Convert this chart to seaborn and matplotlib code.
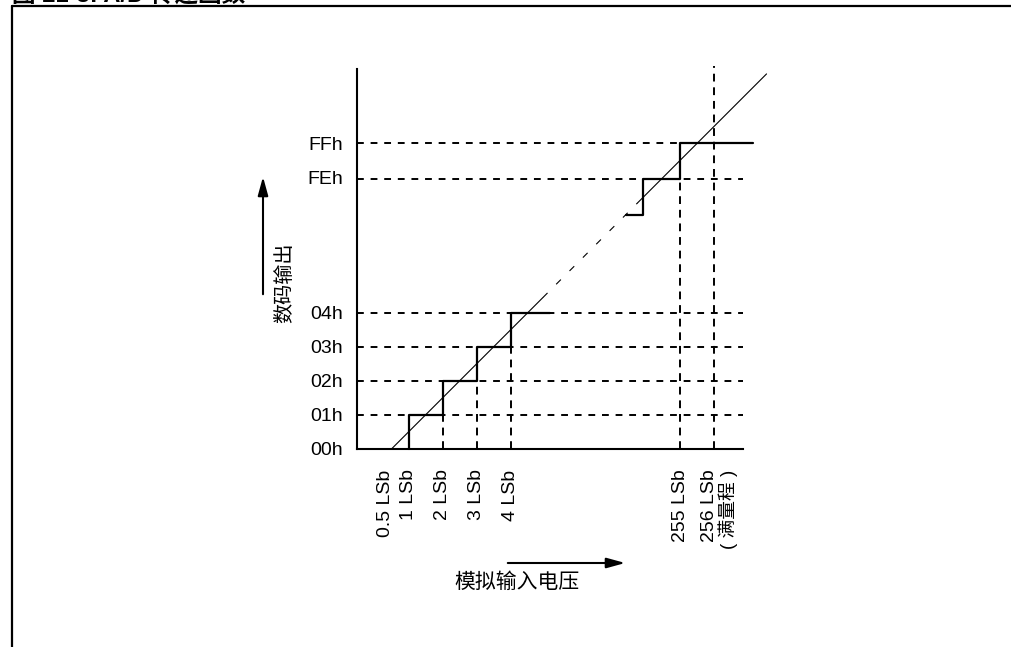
import matplotlib
matplotlib.use('Agg')
import matplotlib.pyplot as plt
import matplotlib.transforms as mtransforms
from matplotlib.lines import Line2D
from matplotlib.patches import FancyArrowPatch
import seaborn as sns

# ---------------- data (broken-axis positions) ----------------
y_codes = ['00h', '01h', '02h', '03h', '04h', 'FEh', 'FFh']
y_pos = [0, 1, 2, 3, 4, 8, 9]
x_labels = ['0.5 LSb', '1 LSb', '2 LSb', '3 LSb', '4 LSb', '255 LSb', '256 LSb']
x_pos = [0.5, 1, 2, 3, 4, 9, 10]
x_note = '( 满量程 )'

low_step_x = [1, 1, 2, 2, 3, 3, 4, 4, 5.15]
low_step_y = [0, 1, 1, 2, 2, 3, 3, 4, 4]
high_step_x = [7.4, 7.9, 7.9, 9, 9, 11.15]
high_step_y = [6.9, 6.9, 7.95, 7.95, 9, 9]

ideal_lo_x, ideal_lo_y = [0.5, 4.95], [0.0, 4.45]
ideal_gap_x, ideal_gap_y = [4.95, 7.75], [4.45, 7.25]
ideal_hi_x, ideal_hi_y = [7.75, 11.55], [7.25, 11.05]

grid_levels = [1, 2, 3, 4, 7.95]
grid_end = 10.86
ffh_level, ffh_end = 9, 9
vgrid_x = [2, 3, 4, 9, 10]
vgrid_top = [1, 2, 3, 7.95, 11.27]

# ---------------- style ----------------
sns.set_theme(style='white')
plt.rcParams['font.family'] = ['Liberation Sans', 'Noto Sans CJK SC']

W, H = 1011, 647
fig = plt.figure(figsize=(W / 100, H / 100), dpi=100)

X0, Y0, S = 375.0, 448.5, 33.9
xmin, xmax = (357 - X0) / S, 12.0
ymin, ymax = 0.0, 11.6
left = 357 / W
width = (X0 + xmax * S - 357) / W
bottom = (H - Y0) / H
height = (ymax * S) / H
ax = fig.add_axes([left, bottom, width, height])
ax.set_xlim(xmin, xmax)
ax.set_ylim(ymin, ymax)
ax.set_facecolor('white')

for side in ['top', 'right']:
    ax.spines[side].set_visible(False)
for side in ['left', 'bottom']:
    ax.spines[side].set_color('black')
    ax.spines[side].set_linewidth(1.5)
ax.spines['left'].set_bounds(0, 11.2)
ax.spines['bottom'].set_bounds(xmin, grid_end)

dash = (0, (3.5, 3.5))
# horizontal dashed grid
for lv in grid_levels:
    ax.plot([xmin, grid_end], [lv, lv], color='black', lw=1.4, linestyle=dash, zorder=1)
ax.plot([xmin, ffh_end], [ffh_level, ffh_level], color='black', lw=1.4, linestyle=dash, zorder=1)
# vertical dashed grid
for xv, top in zip(vgrid_x, vgrid_top):
    ax.plot([xv, xv], [0, top], color='black', lw=1.4, linestyle=(0, (4, 3)), zorder=1)

# staircases
sns.lineplot(x=low_step_x, y=low_step_y, sort=False, estimator=None,
             color='black', lw=1.6, ax=ax, zorder=3)
sns.lineplot(x=high_step_x, y=high_step_y, sort=False, estimator=None,
             color='black', lw=1.6, ax=ax, zorder=3)
# ideal transfer line
sns.lineplot(x=ideal_lo_x, y=ideal_lo_y, sort=False, estimator=None,
             color='black', lw=0.8, ax=ax, zorder=4)
sns.lineplot(x=ideal_gap_x, y=ideal_gap_y, sort=False, estimator=None,
             color='black', lw=0.8, linestyle=(0, (6, 11)), ax=ax, zorder=4)
sns.lineplot(x=ideal_hi_x, y=ideal_hi_y, sort=False, estimator=None,
             color='black', lw=0.8, ax=ax, zorder=4)
for ln in ax.get_lines():
    ln.set_clip_on(False)

# y ticks
ax.set_yticks(y_pos, y_codes)
ax.tick_params(axis='y', length=0, pad=10, labelsize=14, labelcolor='black')
ax.set_xticks([])

# x labels (rotated)
trans = ax.get_xaxis_transform()
for xp, lab in zip(x_pos, x_labels):
    dx = -6 if xp == 0.5 else (-4 if xp == 10 else 0)
    t = mtransforms.offset_copy(trans, fig=fig, x=dx, y=-21, units='dots')
    ax.text(xp, 0, lab, transform=t, rotation=90, ha='center', va='top',
            fontsize=14, color='black')
t = mtransforms.offset_copy(trans, fig=fig, x=14, y=-21, units='dots')
ax.text(x_pos[-1], 0, x_note, transform=t, rotation=90, ha='center', va='top',
        fontsize=13.5, color='black')

# axis titles and arrows
fig.text(285 / W, 1 - 282.5 / H, '数码输出', rotation=90, ha='center', va='center',
         fontsize=14.5, color='black')
fig.text(517 / W, 1 - 582 / H, '模拟输入电压', ha='center', va='center',
         fontsize=15, color='black')
astyle = '-|>,head_length=0.8,head_width=0.22'
fig.add_artist(FancyArrowPatch((263 / W, 1 - 297 / H), (263 / W, 1 - 174 / H),
                               transform=fig.transFigure, arrowstyle=astyle,
                               mutation_scale=14, lw=1.5, color='black'))
fig.add_artist(FancyArrowPatch((505 / W, 1 - 563 / H), (628 / W, 1 - 563 / H),
                               transform=fig.transFigure, arrowstyle=astyle,
                               mutation_scale=14, lw=1.5, color='black'))

# frame and clipped caption (caption is cut by the top edge, as in the source)
fig.add_artist(Line2D([12 / W, 1.0], [1 - 5.5 / H, 1 - 5.5 / H],
                      transform=fig.transFigure, color='black', lw=1.6))
fig.add_artist(Line2D([12 / W, 12 / W], [0, 1 - 5.5 / H],
                      transform=fig.transFigure, color='black', lw=1.6))
fig.text(12 / W, 1 - 1.2 / H, '图 21-3: A/D 传递函数', ha='left', va='baseline',
         fontsize=17, fontweight='bold', color='black')

fig.savefig('out.png', dpi=100, facecolor='white')
